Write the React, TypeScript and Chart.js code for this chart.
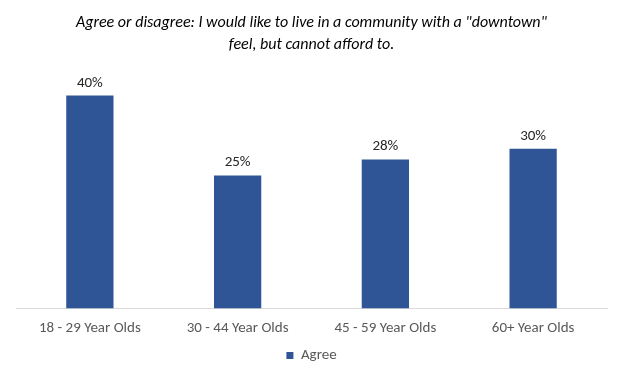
import React, { useEffect, useRef } from "react";
import { Chart, registerables } from "chart.js";

Chart.register(...registerables);

const categories = ["18 - 29 Year Olds", "30 - 44 Year Olds", "45 - 59 Year Olds", "60+ Year Olds"];
const agreeValues = [40, 25, 28, 30];
const titleLines = ['Agree or disagree: I would like to live in a community with a "downtown"', "feel, but cannot afford to."];
const seriesName = "Agree";

const FONT = "Carlito, 'Liberation Sans', Arial, sans-serif";

const labelPlugin = {
  id: "barLabels",
  afterDatasetsDraw(chart: any) {
    const ctx = chart.ctx;
    const meta = chart.getDatasetMeta(0);
    ctx.save();
    ctx.font = `15px ${FONT}`;
    ctx.fillStyle = "#262626";
    ctx.textAlign = "center";
    ctx.textBaseline = "alphabetic";
    meta.data.forEach((bar: any, i: number) => {
      ctx.fillText(`${agreeValues[i]}%`, bar.x, bar.y - 9);
    });
    ctx.restore();
  },
};

export default function App() {
  const ref = useRef<HTMLCanvasElement>(null);
  useEffect(() => {
    document.body.style.margin = "0";
    const chart = new Chart(ref.current!, {
      type: "bar",
      data: {
        labels: categories,
        datasets: [
          {
            label: seriesName,
            data: agreeValues,
            backgroundColor: "#2F5597",
            categoryPercentage: 1,
            barPercentage: 0.32,
          },
        ],
      },
      options: {
        animation: false,
        responsive: false,
        maintainAspectRatio: false,
        layout: { padding: { left: 16, right: 19, top: 12, bottom: 1 } },
        scales: {
          x: {
            grid: { display: false },
            border: { display: true, color: "#d9d9d9", width: 1 },
            ticks: { color: "#595959", font: { size: 15, family: FONT }, padding: 3 },
          },
          y: { display: false, min: 0, max: 45 },
        },
        plugins: {
          title: {
            display: true,
            text: titleLines,
            color: "#000000",
            font: { size: 16, style: "italic", weight: "normal", family: FONT, lineHeight: 1.375 },
            padding: { top: 0, bottom: 13 },
          },
          legend: {
            position: "bottom",
            labels: {
              boxWidth: 7,
              boxHeight: 7,
              color: "#595959",
              font: { size: 15, family: FONT },
              padding: 7.5,
            },
          },
          tooltip: { enabled: false },
        },
      },
      plugins: [labelPlugin],
    });
    return () => chart.destroy();
  }, []);
  return (
    <div style={{ width: 626, height: 374, position: "relative", background: "#fff" }}>
      <canvas ref={ref} width={626} height={374} style={{ display: "block" }} />
    </div>
  );
}
